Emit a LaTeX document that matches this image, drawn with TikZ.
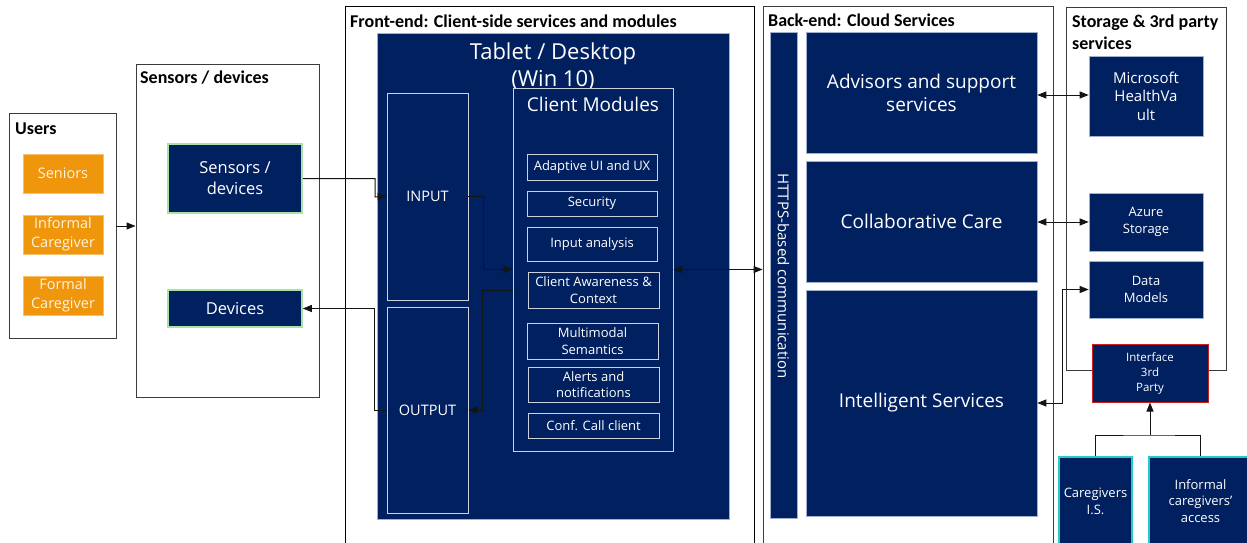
\documentclass[tikz,border=0pt]{standalone}
\usepackage{fontspec}
\setmainfont{Open Sans}
\newfontfamily\headfont{Carlito}
\usetikzlibrary{arrows.meta}

\definecolor{navy}{HTML}{002060}
\definecolor{navyedge}{RGB}{160,175,205}
\definecolor{paleline}{RGB}{205,210,220}
\definecolor{framegray}{RGB}{60,60,60}
\definecolor{userorange}{RGB}{239,150,13}
\definecolor{creamtext}{RGB}{255,244,222}
\definecolor{palegreen}{RGB}{170,225,170}
\definecolor{tealedge}{RGB}{40,200,205}
\definecolor{rededge}{RGB}{205,30,30}
\definecolor{linegray}{RGB}{20,20,20}

\newcommand\setfs[2]{\fontsize{#1}{#2}\selectfont}

\begin{document}
\begin{tikzpicture}[x=1pt,y=-1pt,
  sz/.style 2 args={minimum width=#1pt, minimum height=#2pt},
  frame/.style={draw=framegray, line width=0.9pt, inner sep=0pt},
  head/.style={font=\headfont\bfseries\setfs{18}{22}, anchor=base west, inner sep=0pt, align=left},
  navybox/.style={fill=navy, draw=navyedge, line width=0.6pt, inner sep=0pt, text=white, align=center},
  outbox/.style={draw=paleline, line width=0.8pt, inner sep=0pt, text=white, align=center},
  userbox/.style={fill=userorange, draw=userorange!60!white, line width=0.5pt, inner sep=0pt,
    text=creamtext, align=center, font=\setfs{14.5}{19}, sz={80}{39}},
  sensorbox/.style={navybox, draw=palegreen, line width=1.6pt, font=\setfs{16.5}{21}},
  carebox/.style={navybox, draw=tealedge, line width=1.8pt},
  conn/.style={draw=linegray, line width=1pt},
  arr/.style={conn, -{Triangle[length=9pt,width=7pt]}},
  darr/.style={conn, {Triangle[length=9pt,width=7pt]}-{Triangle[length=9pt,width=7pt]}},
  modbox/.style={outbox, font=\setfs{13}{16.5}},
  bigtext/.style={font=\setfs{19}{23}},
  label/.style={text=white, align=center, inner sep=0pt},
]
\useasboundingbox (0,0) rectangle (1247,543);
\clip (0,0) rectangle (1247,543);

% ---------------- Users ----------------
\node[frame, sz={107}{225}] (users) at (62.5,225.5) {};
\node[head] (usershead) at (15,134) {Users};
\node[userbox] (seniors) at (63,173.5) {Seniors};
\node[userbox] (informal) at (63,234.5) {Informal\\Caregiver};
\node[userbox] (formal) at (63,295.5) {Formal\\Caregiver};

% ---------------- Sensors / devices ----------------
\node[frame, sz={183}{333}] (sensframe) at (227.5,230.5) {};
\node[head] (senshead) at (140,83) {Sensors / devices};
\node[sensorbox, sz={134}{69}] (sensors) at (235,178.5) {Sensors /\\devices};
\node[sensorbox, sz={134}{37}] (devices) at (235,308.5) {Devices};

% ---------------- Front-end ----------------
\node[frame, draw=black, sz={409}{554}] (front) at (549.5,283) {};
\node[head] (fronthead) at (350,28) {Front-end: Client-side services and modules};
\node[navybox, sz={352}{486}] (tablet) at (553,276) {};
\node[label, font=\setfs{22}{27.5}] (tablettitle) at (553,66.5) {Tablet / Desktop\\(Win 10)};
\node[outbox, font=\setfs{14.5}{18}, sz={81}{207}] (input) at (427.5,196.5) {INPUT};
\node[outbox, font=\setfs{14.5}{18}, sz={81}{206}] (output) at (427.5,410) {OUTPUT};
\node[outbox, fill=navy, sz={160}{363}] (cm) at (593,269.5) {};
\node[label, font=\setfs{19}{23}] (cmtitle) at (593,104) {Client Modules};
\node[modbox, sz={130}{26}] (adapt) at (592,167) {Adaptive UI and UX};
\node[modbox, sz={130}{25}] (security) at (592,203.5) {Security};
\node[modbox, sz={130}{34}] (inputan) at (592,244) {Input analysis};
\node[modbox, sz={131}{36}] (aware) at (593.5,290) {Client Awareness \&\\Context};
\node[modbox, sz={131}{36}] (multi) at (592.5,341) {Multimodal\\Semantics};
\node[modbox, sz={131}{35}] (alerts) at (593.5,384.5) {Alerts and\\notifications};
\node[modbox, sz={131}{25}] (conf) at (593.5,425.5) {Conf. Call client};

% ---------------- Back-end ----------------
\node[frame, sz={290}{554}] (back) at (908,283) {};
\node[head] (backhead) at (768,27) {Back-end: Cloud Services};
\node[navybox, sz={27}{486}] (https) at (783.5,275) {};
\node[label, rotate=-90, font=\setfs{15}{18}] (httpslabel) at (783.5,276) {HTTPS-based communication};
\node[navybox, bigtext, sz={231}{121}] (advisors) at (921.5,92.5) {Advisors and support\\services};
\node[navybox, bigtext, sz={231}{121}] (collab) at (921.5,221.5) {Collaborative Care};
\node[navybox, bigtext, sz={231}{226}] (intel) at (921.5,403) {Intelligent Services};

% ---------------- Storage & 3rd party ----------------
\node[frame, sz={160}{363}] (storage) at (1146,188.5) {};
\node[head] (storagehead) at (1072,50) {Storage \& 3rd party\\services};
\node[navybox, font=\setfs{15}{18.5}, sz={114}{80}] (vault) at (1146,96) {Microsoft\\HealthVa\\ult};
\node[navybox, font=\setfs{13}{16.5}, sz={114}{58}] (azure) at (1146,222) {Azure\\Storage};
\node[navybox, font=\setfs{13}{16.5}, sz={114}{57}] (models) at (1146,289.5) {Data\\Models};
\node[navybox, draw=rededge, line width=1pt, font=\setfs{11.5}{15}, sz={116}{58}] (iface) at (1150,373)
  {Interface\\3rd\\Party};
\node[carebox, sz={73}{103}] (cgis) at (1095.5,508.5) {};
\node[label, font=\setfs{13}{17}] (cgislabel) at (1095.5,501) {Caregivers\\I.S.};
\node[carebox, sz={103}{103}] (icare) at (1200.5,508.5) {};
\node[label, font=\setfs{13}{16.5}] (icarelabel) at (1200.5,501) {Informal\\caregivers'\\access};

% ---------------- Connectors ----------------
\draw[arr] (users.east |- 0,226) -- (sensframe.west |- 0,226);
\draw[arr] (sensors.east) -| (375,197) -- (input.west);
\draw[arr] (output.west) -- ++(-12,0) |- (devices.east);
\draw[arr] (input.east) -- ++(15,0) |- (cm.west);
\draw[arr] (cm.west |- 0,290) -- ++(-30,0) |- (output.east);
\draw[darr] (cm.east) -- (cm.east -| back.west);

\draw[darr] (advisors.east |- 0,95) -- (vault.west |- 0,95);
\draw[darr] (collab.east |- 0,222) -- (azure.west |- 0,222);
\draw[darr] (intel.east) -- ++(25,0) |- (models.west);

\coordinate (join) at (1150,435);
\draw[conn] (cgis.north) |- (join) -| (icare.north);
\draw[arr] (join) -- (iface.south);
\end{tikzpicture}
\end{document}
